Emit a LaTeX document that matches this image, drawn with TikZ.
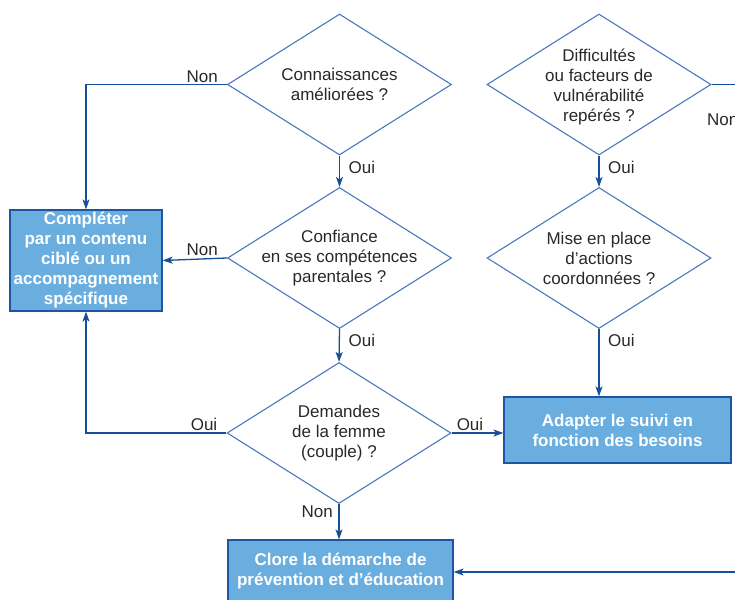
\documentclass[tikz,border=0pt]{standalone}
\usepackage{fontspec}
\setmainfont{Liberation Sans}
\usetikzlibrary{shapes.geometric,arrows.meta,positioning}
\definecolor{boxfill}{RGB}{106,174,224}
\definecolor{boxline}{RGB}{31,84,160}
\definecolor{flow}{RGB}{22,78,152}
\definecolor{losange}{RGB}{74,120,190}
\definecolor{txt}{RGB}{40,40,40}
\tikzset{
  question/.style={diamond, draw=losange, line width=1.1pt, minimum width=224pt, minimum height=141pt, inner sep=0pt},
  qtext/.style={align=center, text=txt, font=\fontsize{17}{20}\selectfont, inner sep=0pt},
  action/.style={rectangle, draw=boxline, fill=boxfill, line width=1.2pt, align=center, text=white, font=\bfseries\fontsize{17}{20}\selectfont, inner sep=0pt},
  fleche/.style={draw=flow, line width=1.3pt, -{Stealth[length=10pt,width=7pt,inset=2.5pt]}},
  trait/.style={draw=flow, line width=1.3pt},
  rep/.style={text=txt, font=\fontsize{17}{20}\selectfont, inner sep=1pt},
}
\begin{document}
\begin{tikzpicture}[x=1pt,y=-1pt]
\useasboundingbox (0,0) rectangle (735,599);

% questions
\node[question] (conn) at (339.5,84.5) {};
\node[qtext] (conn-t) at (conn) {Connaissances\\améliorées ?};
\node[question] (conf) at (339.5,258) {};
\node[qtext] (conf-t) at (conf) {Confiance\\en ses compétences\\parentales ?};
\node[question] (dem) at (339,433) {};
\node[qtext] (dem-t) at (dem) {Demandes\\de la femme\\(couple) ?};
\node[question] (diff) at (599,84.5) {};
\node[qtext] (diff-t) at (599,87) {Difficultés\\ou facteurs de\\vulnérabilité\\repérés ?};
\node[question] (mise) at (599,258) {};
\node[qtext] (mise-t) at (mise) {Mise en place\\d'actions\\coordonnées ?};

% actions
\node[action, minimum width=152pt, minimum height=101pt] (compl) at (86,260.5) {Compléter\\par un contenu\\ciblé ou un\\accompagnement\\spécifique};
\node[action, minimum width=227pt, minimum height=66pt] (adapt) at (617.5,430) {Adapter le suivi en\\fonction des besoins};
\node[action, minimum width=225pt, minimum height=62pt] (clore) at (340.5,571) {Clore la démarche de\\prévention et d'éducation};

\coordinate (sortie) at (745,84.5);
\coordinate (retour) at (745,572);

% connecteurs
\draw[fleche] (conn.west) -| (compl.north);
\draw[fleche] (conf.west) -- (compl.east);
\draw[fleche] (dem.west) -| (compl.south);
\draw[fleche] (conn.south) -- (conf.north);
\draw[fleche] (conf.south) -- (dem.north);
\draw[fleche] (dem.east) -- (adapt.west |- dem.east);
\draw[fleche] (dem.south) -- (clore.north -| dem.south);
\draw[fleche] (diff.south) -- (mise.north);
\draw[fleche] (mise.south) -- (mise.south |- adapt.north);
\draw[trait] (diff.east) -- (sortie);
\draw[fleche] (retour) -- (clore.east |- retour);

% reponses
\node[rep, above left=1pt and 8pt of conn.west] (n1) {Non};
\node[rep, above left=1pt and 8pt of conf.west] (n2) {Non};
\node[rep, above left=1pt and 8pt of dem.west] (o5) {Oui};
\node[rep, above right=1pt and 4pt of dem.east] (o6) {Oui};
\node[rep, below left=1pt and 5pt of dem.south] (n3) {Non};
\node[rep, below right=4pt and 8pt of conn.south] (o1) {Oui};
\node[rep, below right=4pt and 8pt of conf.south] (o2) {Oui};
\node[rep, below right=4pt and 8pt of diff.south] (o3) {Oui};
\node[rep, below right=4pt and 8pt of mise.south] (o4) {Oui};
\node[rep, anchor=west] (n4) at (706,120) {Non};
\end{tikzpicture}
\end{document}
